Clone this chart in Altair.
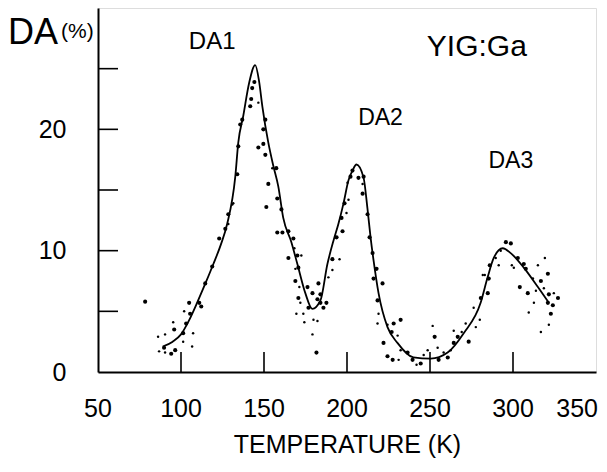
import altair as alt
import pandas as pd

# fitted curve (temperature K, DA %)
curve_T = [89, 95, 100, 105, 110, 115, 119.5, 124, 127.8, 132.7, 134.5, 137.5, 141, 144.7, 147, 149, 152.6, 155.6, 158.6,
           161.6, 166.5, 170.1, 174.9, 179.1, 184.0, 188.2, 191.8, 194.8, 197.9, 200.9, 203.3, 205.7, 210.0,
           212.3, 214.2, 216.0, 219.0, 224.4, 230.4, 240.0, 250.4, 260.6, 270.3, 280.5, 284.7, 288.4, 293.8,
           298.6, 306.5, 315.0, 321.6]
curve_DA = [2.1, 2.5, 3.1, 4.3, 5.8, 7.4, 8.9, 10.5, 12.2, 16.1, 18.9, 21.1, 23.8, 25.3, 24.0, 21.9, 18.9, 17.0, 15.3,
            12.7, 10.7, 8.9, 6.5, 5.2, 5.9, 8.9, 10.8, 12.2, 13.9, 15.8, 16.6, 17.1, 16.0,
            13.5, 11.1, 9.2, 6.5, 3.7, 2.4, 1.2, 1.1, 1.6, 3.2, 5.7, 7.8, 9.4, 10.2,
            9.8, 8.6, 7.0, 5.7]

# measured points, large dots
big_T = [78.4, 95.9, 104.9, 111.0, 112.2, 105.5, 103.1, 101.3, 96.5, 94.1, 89.8, 114.6, 118.8, 123.0, 126.7,
         128.5, 133.9, 134.5, 135.7, 136.9, 141.7, 142.3, 142.9, 144.2, 150.8, 149.6, 146.6, 149.6, 150.8,
         152.6, 157.4, 151.4, 158.0, 160.5, 158.0, 161.1, 164.7, 167.7, 164.7, 170.1, 170.7, 168.9, 170.7,
         176.2, 179.2, 176.8, 181.6, 182.8, 184.0, 182.2, 184.0, 187.6, 185.8, 191.2, 193.7, 197.3, 196.7,
         198.5, 202.1, 203.3, 206.9, 210.0, 209.4, 212.4, 213.6, 215.4, 217.8, 216.0, 221.4, 218.4, 228.1,
         232.3, 226.9, 222.0, 224.4, 227.5, 236.5, 239.5, 244.4, 252.8, 255.2, 260.7, 264.3, 266.7, 273.3,
         280.6, 285.4, 284.8, 286.0, 295.7, 298.7, 302.9, 306.5, 307.7, 304.1, 308.9, 316.8, 321.0, 321.6,
         321.0, 324.0, 322.8, 327.1]
big_DA = [5.8, 3.5, 5.7, 5.7, 5.4, 4.8, 4.0, 3.2, 1.8, 1.5, 2.0, 7.3, 8.7, 11.0, 11.8,
          13.0, 16.3, 18.6, 20.4, 20.8, 21.9, 22.5, 23.4, 23.9, 20.8, 20.0, 18.5, 18.8, 17.9,
          15.5, 16.8, 13.6, 14.3, 13.4, 11.5, 11.5, 11.6, 11.0, 9.4, 9.6, 8.6, 7.5, 6.1,
          7.0, 6.5, 5.3, 1.6, 7.3, 6.4, 6.0, 5.7, 5.7, 5.3, 9.3, 11.1, 11.6, 12.7,
          13.9, 16.1, 16.6, 16.0, 16.1, 14.7, 13.0, 11.1, 9.8, 8.5, 7.7, 7.3, 5.9, 4.0,
          4.3, 3.3, 2.4, 1.3, 1.0, 1.6, 1.0, 0.7, 2.9, 1.0, 1.2, 2.4, 2.9, 2.5,
          6.1, 7.7, 6.5, 8.8, 10.7, 10.6, 9.4, 8.9, 8.5, 7.0, 6.5, 7.5, 8.1, 6.4,
          5.7, 5.5, 4.8, 6.1]

# measured points, small dots
small_T = [86.2, 90.4, 95.3, 101.9, 107.3, 106.7, 86.8, 90.4, 101.3, 128.5, 130.9, 131.5, 146.6, 155.0,
           168.3, 172.5, 168.9, 171.3, 171.9, 169.5, 173.7, 174.3, 179.8, 182.2, 179.2, 188.8, 191.2,
           195.5, 199.7, 200.9, 200.3, 209.4, 219.0, 218.4, 224.4, 230.5, 231.1, 232.3, 241.9, 246.2,
           248.6, 251.6, 254.6, 258.2, 262.5, 264.3, 269.1, 271.5, 276.3, 277.6, 280.0, 281.8, 283.0,
           289.6, 291.4, 292.6, 299.3, 300.5, 312.0, 313.8, 315.0, 319.2, 324.6, 316.8, 321.6, 312.6,
           309.5, 318.6]
small_DA = [2.9, 3.1, 4.1, 5.0, 3.2, 2.1, 1.7, 1.6, 2.5, 12.2, 13.8, 13.9, 22.2, 16.8,
            10.2, 9.6, 8.5, 7.0, 5.7, 4.8, 4.8, 4.1, 4.3, 4.2, 3.1, 7.8, 8.4,
            9.3, 13.1, 14.2, 15.6, 15.5, 4.8, 4.0, 3.9, 3.0, 1.0, 1.8, 0.6, 1.4,
            1.8, 3.8, 2.0, 1.6, 1.8, 3.4, 3.3, 4.0, 5.3, 3.7, 4.3, 8.0, 8.0,
            9.4, 8.8, 10.0, 8.8, 8.6, 7.7, 6.7, 8.8, 9.4, 6.5, 3.3, 3.9, 5.7,
            4.9, 6.9]

x_labels = [50, 100, 150, 200, 250, 300]
x_last_label = [350]
y_labels = [0, 10, 20]
x_minor = [100, 150, 200, 250, 300]
y_minor = [5, 10, 15, 20, 25]

FONT = "Liberation Sans, Roboto, sans-serif"
W, H = 498, 364

xs = alt.Scale(domain=[50, 350], nice=False, zero=False)
ys = alt.Scale(domain=[0, 30], nice=False, zero=False)

curve_df = pd.DataFrame({"T": curve_T, "DA": curve_DA})
big_df = pd.DataFrame({"T": big_T, "DA": big_DA})
small_df = pd.DataFrame({"T": small_T, "DA": small_DA})

base_x = alt.X("T:Q", scale=xs,
               axis=alt.Axis(values=x_labels, ticks=False, grid=False, labels=False,
                             domainColor="black", domainWidth=2,
                             title="TEMPERATURE  (K)", titleFont=FONT, titleFontSize=25,
                             titleFontWeight="normal", titleColor="black", titlePadding=60))
base_y = alt.Y("DA:Q", scale=ys,
               axis=alt.Axis(values=y_labels, ticks=False, grid=False, domainColor="black", domainWidth=2,
                             labelFont=FONT, labelFontSize=25, labelColor="black", labelPadding=32,
                             title=None, labelFlush=False))

line = alt.Chart(curve_df).mark_line(color="black", strokeWidth=1.8, interpolate="monotone").encode(
    x=base_x, y=base_y)
big = alt.Chart(big_df).mark_circle(color="black", size=17, opacity=1).encode(x="T:Q", y="DA:Q")
small = alt.Chart(small_df).mark_circle(color="black", size=6, opacity=1).encode(x="T:Q", y="DA:Q")

yt = alt.Chart(pd.DataFrame({"v": y_minor})).mark_rule(color="black", strokeWidth=1.6).encode(
    y=alt.Y("v:Q", scale=ys), x=alt.value(0), x2=alt.value(20))
xt = alt.Chart(pd.DataFrame({"v": x_minor})).mark_rule(color="black", strokeWidth=1.6).encode(
    x=alt.X("v:Q", scale=xs), y=alt.value(H), y2=alt.value(H - 20))

xlab = alt.Chart(pd.DataFrame({"v": x_labels})).mark_text(
    font=FONT, fontSize=25, color="black", align="center", baseline="middle").encode(
    x=alt.X("v:Q", scale=xs), y=alt.value(H + 37), text=alt.Text("v:Q"))
xlab_last = alt.Chart(pd.DataFrame({"v": x_last_label})).mark_text(
    font=FONT, fontSize=25, color="black", align="right", baseline="middle", dx=2).encode(
    x=alt.X("v:Q", scale=xs), y=alt.value(H + 37), text=alt.Text("v:Q"))


def label(txt, t, da, size):
    return alt.Chart(pd.DataFrame({"a": [0]})).mark_text(
        text=txt, font=FONT, fontSize=size, color="black", align="center", baseline="middle").encode(
        x=alt.datum(t, scale=xs), y=alt.datum(da, scale=ys))


def plabel(txt, px, py, size, align):
    return alt.Chart(pd.DataFrame({"a": [0]})).mark_text(
        text=txt, font=FONT, fontSize=size, color="black", align=align, baseline="middle").encode(
        x=alt.value(px), y=alt.value(py))


chart = alt.layer(
    line, big, small, yt, xt, xlab, xlab_last,
    label("DA1", 118.8, 27.2, 24),
    label("YIG:Ga", 278.2, 26.8, 30),
    label("DA2", 220.2, 20.9, 23),
    label("DA3", 298.7, 17.4, 23),
    plabel("DA", -90, 25, 36, "left"),
    plabel("(%)", -37, 24, 21, "left"),
).properties(width=W, height=H, padding={"left": 90, "top": 0, "right": 3, "bottom": 92},
             autosize=alt.AutoSizeParams(type="none")).configure_view(
    stroke="black", strokeWidth=1.6).configure(background="white")

chart.save("out.html", embed_options={"renderer": "svg", "actions": False})
